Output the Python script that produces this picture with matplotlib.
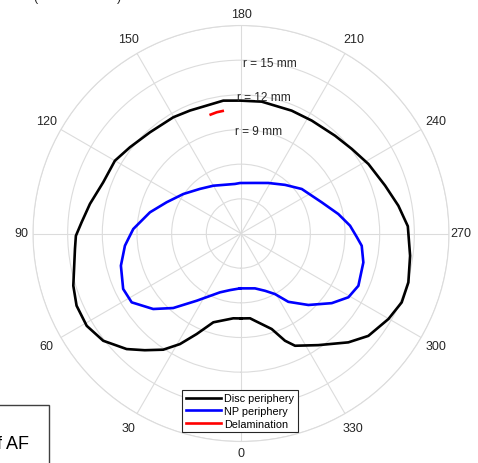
import numpy as np
import matplotlib
matplotlib.use("Agg")
import matplotlib.pyplot as plt
from matplotlib.patches import Rectangle

plt.rcParams['font.family'] = ['Liberation Sans', 'DejaVu Sans']

# Outline of the disc (angle in degrees, radius in mm)
disc_theta_deg = [0, 5.2, 17.3, 23.8, 28.9, 33.8, 39.5, 44.7, 52.1, 59.1, 66.3, 72.7,
                  84.7, 89.2, 94.0, 101.1, 110.4, 120.0, 127.8, 138.0, 149.8, 157.5,
                  172.4, 179.6, 188.9, 202.4, 212.1, 223.9, 232.6, 241.4, 251.6, 260.0,
                  267.5, 277.5, 286.3, 293.2, 300.1, 308.8, 315.4, 325.3, 334.3, 337.7,
                  342.2, 350.9, 353.9]
disc_r_mm = [7.35, 7.37, 8.05, 9.51, 10.93, 12.10, 13.09, 14.07, 15.11, 15.56, 15.54, 15.20,
             14.43, 14.29, 13.83, 13.32, 12.72, 12.60, 12.17, 11.78, 11.64, 11.52,
             11.60, 11.50, 11.55, 11.50, 11.53, 11.74, 12.06, 12.56, 13.14, 13.83,
             14.45, 14.76, 15.09, 15.13, 14.75, 14.14, 13.23, 11.75, 10.78, 10.03,
             8.68, 7.65, 7.38]

# Outline of the nucleus pulposus
np_theta_deg = [1.0, 11.0, 19.7, 33.4, 42.3, 49.3, 57.8, 64.8, 75.0, 84.0, 87.2, 92.4,
                96.3, 103.1, 112.8, 124.4, 137.3, 149.9, 173.1, 178.9, 195.5, 208.4,
                222.2, 233.8, 248.9, 258.7, 265.9, 271.7, 275.8, 283.3, 294.0, 300.7,
                307.5, 316.7, 325.3, 330.7, 337.2, 345.7]
np_r_mm = [4.75, 4.99, 5.41, 6.97, 8.72, 10.02, 11.18, 11.27, 10.76, 10.10, 9.77, 9.33,
           8.80, 8.09, 6.98, 6.05, 5.25, 4.78, 4.32, 4.37, 4.54, 4.97,
           5.68, 6.52, 7.49, 8.59, 9.46, 10.02, 10.50, 10.88, 11.12, 10.81,
           9.90, 8.50, 7.19, 6.01, 5.38, 4.90]

# Delamination segment
delam_theta_deg = [165.7, 168.7, 171.5]
delam_r_mm = [10.62, 10.70, 10.72]

ring_labels_mm = [15, 12, 9]
angle_ticks = list(range(0, 360, 30))

W, H = 478, 464
fig = plt.figure(figsize=(W / 100, H / 100), dpi=100)

cx, cy, R = 241, 234.5, 208
r_max = 18
ax = fig.add_axes([(cx - R) / W, 1 - (cy + R) / H, 2 * R / W, 2 * R / H],
                  projection='polar')
ax.set_theta_zero_location('S')
ax.set_theta_direction(-1)

grid_col = '#dcdcdc'
ax.set_ylim(0, r_max)
ax.set_yticks([3, 6, 9, 12, 15, 18])
ax.set_yticklabels([])
ax.set_thetagrids(angle_ticks, labels=[''] * len(angle_ticks))
ax.grid(True, color=grid_col, linewidth=0.8)
ax.spines['polar'].set_color(grid_col)
ax.spines['polar'].set_linewidth(0.8)

# Angle labels sit a little further out on the diagonals
px_per_mm = R / r_max
for a in angle_ticks:
    off_px = 219.5 + 6 * abs(np.sin(np.deg2rad(2 * a)))
    ax.text(np.deg2rad(a), off_px / px_per_mm, str(a), ha='center', va='center',
            fontsize=9, color='#262626', clip_on=False)


def closed(theta_deg, r):
    t = np.deg2rad(np.append(theta_deg, theta_deg[0]))
    return t, np.append(r, r[0])


t, r = closed(disc_theta_deg, disc_r_mm)
l1, = ax.plot(t, r, color='black', lw=1.9, label='Disc periphery',
              solid_joinstyle='round')
t, r = closed(np_theta_deg, np_r_mm)
l2, = ax.plot(t, r, color='#0000ff', lw=1.9, label='NP periphery',
              solid_joinstyle='round')
l3, = ax.plot(np.deg2rad(delam_theta_deg), delam_r_mm, color='#ff0000', lw=1.9,
              label='Delamination')

for rr in ring_labels_mm:
    ax.text(np.deg2rad(189.6), rr, f'r = {rr} mm', ha='center', va='center',
            fontsize=8.6, color='#262626')

leg = ax.legend(handles=[l1, l2, l3], loc='lower center',
                bbox_to_anchor=(240 / W, 1 - 433 / H), bbox_transform=fig.transFigure,
                fontsize=7.8, frameon=True, fancybox=False, framealpha=1,
                handlelength=3.3, handletextpad=0.3, labelspacing=0.25,
                borderpad=0.3, borderaxespad=0)
leg.get_frame().set_edgecolor('#262626')
leg.get_frame().set_linewidth(0.8)

# Panel heading and side note
fig.text(33 / W, 1 - 1.5 / H, '(', fontsize=9, color='#262626', va='baseline')
fig.text(117 / W, 1 - 1.5 / H, ')', fontsize=9, color='#262626', va='baseline')
fig.patches.append(Rectangle((-20 / W, -20 / H), 69 / W, (20 + H - 406) / H,
                             transform=fig.transFigure, fill=False,
                             edgecolor='#404040', linewidth=1.0))
fig.text(29 / W, 1 - 449 / H, 'of AF', fontsize=13, color='black',
         ha='right', va='baseline')

fig.savefig('out.png', dpi=100)
